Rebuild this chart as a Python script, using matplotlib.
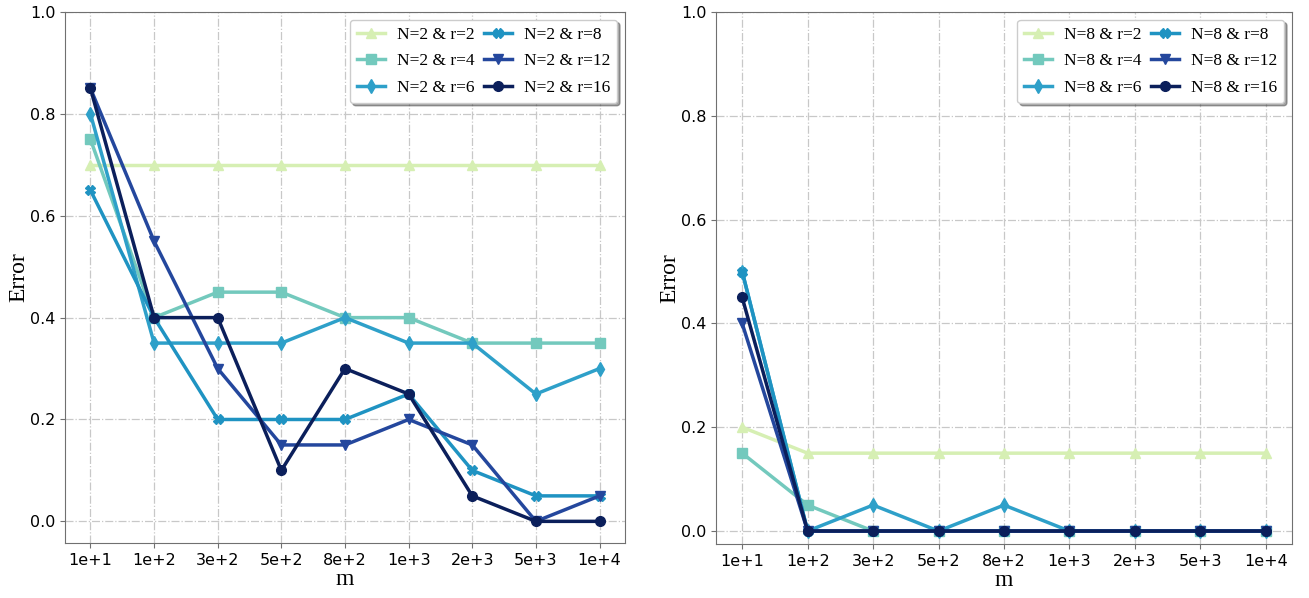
import matplotlib
matplotlib.use("Agg")
import matplotlib.pyplot as plt
import numpy as np

# x categories
m_labels = ["1e+1", "1e+2", "3e+2", "5e+2", "8e+2", "1e+3", "2e+3", "5e+3", "1e+4"]
r_values = [2, 4, 6, 8, 12, 16]

# N=2 errors
err_n2_r2 = [0.70, 0.70, 0.70, 0.70, 0.70, 0.70, 0.70, 0.70, 0.70]
err_n2_r4 = [0.75, 0.40, 0.45, 0.45, 0.40, 0.40, 0.35, 0.35, 0.35]
err_n2_r6 = [0.80, 0.35, 0.35, 0.35, 0.40, 0.35, 0.35, 0.25, 0.30]
err_n2_r8 = [0.65, 0.40, 0.20, 0.20, 0.20, 0.25, 0.10, 0.05, 0.05]
err_n2_r12 = [0.85, 0.55, 0.30, 0.15, 0.15, 0.20, 0.15, 0.00, 0.05]
err_n2_r16 = [0.85, 0.40, 0.40, 0.10, 0.30, 0.25, 0.05, 0.00, 0.00]

# N=8 errors
err_n8_r2 = [0.20, 0.15, 0.15, 0.15, 0.15, 0.15, 0.15, 0.15, 0.15]
err_n8_r4 = [0.15, 0.05, 0.00, 0.00, 0.00, 0.00, 0.00, 0.00, 0.00]
err_n8_r6 = [0.50, 0.00, 0.05, 0.00, 0.05, 0.00, 0.00, 0.00, 0.00]
err_n8_r8 = [0.50, 0.00, 0.00, 0.00, 0.00, 0.00, 0.00, 0.00, 0.00]
err_n8_r12 = [0.40, 0.00, 0.00, 0.00, 0.00, 0.00, 0.00, 0.00, 0.00]
err_n8_r16 = [0.45, 0.00, 0.00, 0.00, 0.00, 0.00, 0.00, 0.00, 0.00]

colors = ['#d6efb3', '#73c9bd', '#2ea0c9', '#1f93c2', '#24479d', '#0b1f5b']
markers = ['^', 's', 'd', 'X', 'v', 'o']

serif = 'Liberation Serif'

fig = plt.figure(figsize=(13.09, 5.98), dpi=100)
ax1 = fig.add_axes([65 / 1309, 1 - 543 / 598, 560 / 1309, 531 / 598])
ax2 = fig.add_axes([716 / 1309, 1 - 544 / 598, 576 / 1309, 532 / 598])


def draw_panel(ax, n, series):
    x = np.arange(len(m_labels))
    for r, ys, c, mk in zip(r_values, series, colors, markers):
        ax.plot(x, ys, color=c, marker=mk, markersize=7, linewidth=2.5,
                label="N={} & r={}".format(n, r))
    ax.set_xticks(x)
    ax.set_xticklabels(m_labels)
    ax.set_ylim(top=1.0)
    ax.grid(True, linestyle='-.', color='#c8c8c8', linewidth=0.9)
    ax.set_axisbelow(True)
    for s in ax.spines.values():
        s.set_color('#707070')
    ax.tick_params(labelsize=11.5, color='#707070')
    ax.set_xlabel('m', family=serif, fontsize=17, labelpad=1)
    ax.set_ylabel('Error', family=serif, fontsize=17, labelpad=0)
    ax.legend(loc='upper right', ncol=2, shadow=True, fancybox=True,
              prop={'family': serif, 'size': 12.5}, columnspacing=0.55,
              handlelength=1.6, handletextpad=0.7, labelspacing=0.6,
              borderaxespad=0.45)


draw_panel(ax1, 2, [err_n2_r2, err_n2_r4, err_n2_r6, err_n2_r8, err_n2_r12, err_n2_r16])
draw_panel(ax2, 8, [err_n8_r2, err_n8_r4, err_n8_r6, err_n8_r8, err_n8_r12, err_n8_r16])

fig.savefig('out.png', dpi=100)
